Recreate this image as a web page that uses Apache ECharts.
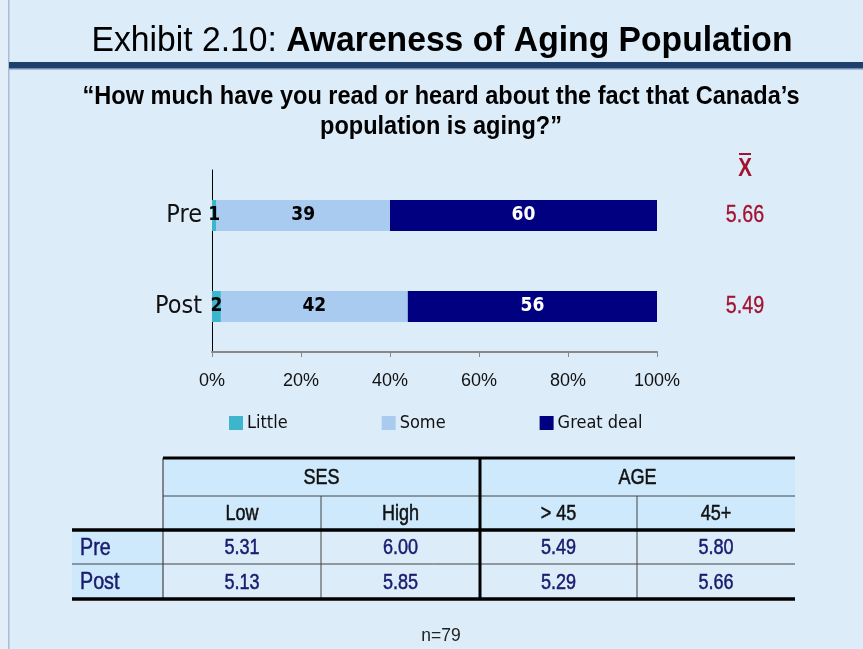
<!DOCTYPE html>
<html><head><meta charset="utf-8">
<script src="https://cdn.jsdelivr.net/npm/echarts@6/dist/echarts.min.js"></script>
<style>html,body{margin:0;padding:0;background:#dcecf9;}#c{width:863px;height:649px;}</style>
</head><body><div id="c"></div>
<script>
// ---- data ----
const categories = ['Pre', 'Post'];
const seriesNames = ['Little', 'Some', 'Great deal'];
const little = [1, 2];
const some = [39, 42];
const greatDeal = [60, 56];
const means = ['5.66', '5.49'];
const xTicks = [0, 20, 40, 60, 80, 100];
const tableGroups = ['SES', 'AGE'];
const tableCols = ['Low', 'High', '> 45', '45+'];
const tableRows = ['Pre', 'Post'];
const preVals = ['5.31', '6.00', '5.49', '5.80'];
const postVals = ['5.13', '5.85', '5.29', '5.66'];
const sampleNote = 'n=79';

const NARROW = '"DejaVu Sans Condensed", "Liberation Sans Narrow", sans-serif';
const SANS = '"Liberation Sans", Arial, sans-serif';
const colors = ['#3bb6cd', '#a9cbef', '#000080'];
const NS = 0.82; // narrow scale for Liberation Sans drawn text

const mctx = document.createElement('canvas').getContext('2d');
function measure(text, font) { mctx.font = font; return mctx.measureText(text).width; }

const chart = echarts.init(document.getElementById('c'));
const labelStyle = (color) => ({show: true, position: 'inside', color: color, fontFamily: NARROW, fontWeight: 'bold', fontSize: 19});

const vals = [little, some, greatDeal];
const series = seriesNames.map((n, i) => ({
  name: n, type: 'bar', stack: 'all', barWidth: 31,
  itemStyle: {color: colors[i]},
  label: labelStyle(i === 2 ? '#ffffff' : '#000000'),
  data: vals[i]
}));

const option = {
  backgroundColor: '#dcecf9',
  animation: false,
  grid: {left: 212, right: 206, top: 170, bottom: 297, containLabel: false},
  xAxis: {
    type: 'value', min: xTicks[0], max: xTicks[xTicks.length - 1], interval: xTicks[1] - xTicks[0],
    axisLine: {show: true, lineStyle: {color: '#888', width: 2}},
    axisTick: {show: true, length: 5, lineStyle: {color: '#888'}},
    splitLine: {show: false},
    axisLabel: {formatter: '{value}%', fontFamily: SANS, fontSize: 18, color: '#111', margin: 20}
  },
  yAxis: {
    type: 'category', data: categories, inverse: true,
    axisLine: {show: true, lineStyle: {color: '#000', width: 1}},
    axisTick: {show: false},
    axisLabel: {fontFamily: NARROW, fontSize: 25, color: '#111', margin: 10}
  },
  legend: {
    data: seriesNames, left: 229, top: 414, padding: 0, itemWidth: 14, itemHeight: 14, itemGap: 94,
    icon: 'rect', textStyle: {fontFamily: NARROW, fontSize: 18, color: '#111', padding: [0, 0, 0, -1]}
  },
  series: series,
  graphic: []
};
chart.setOption(option);

// ---- overlay graphics ----
const g = [];
g.push({type: 'rect', shape: {x: 0, y: 0, width: 8, height: 649}, style: {fill: '#e3eef9'}, silent: true});
g.push({type: 'rect', shape: {x: 8, y: 0, width: 1.5, height: 649}, style: {fill: '#a8bcd8'}, silent: true});

// title (regular + bold), scaled to match width
const tA = 'Exhibit 2.10: ', tB = 'Awareness of Aging Population';
const tSize = 35;
const tW = measure(tA, tSize + 'px ' + SANS) + measure(tB, 'bold ' + tSize + 'px ' + SANS);
const tScale = 701 / tW;
g.push({type: 'text', x: 442, y: 41, scaleX: tScale, style: {
  text: '{n|' + tA + '}{b|' + tB + '}', textAlign: 'center', textVerticalAlign: 'middle',
  rich: {n: {fontFamily: SANS, fontSize: tSize, fill: '#000'}, b: {fontFamily: SANS, fontSize: tSize, fontWeight: 'bold', fill: '#000'}}
}});
g.push({type: 'rect', shape: {x: 9, y: 62, width: 854, height: 6}, style: {fill: '#1f3f6c'}, silent: true});
g.push({type: 'rect', shape: {x: 9, y: 68, width: 854, height: 1.5}, style: {fill: '#6f8db3'}, silent: true});

// subtitle
const s1 = '\u201cHow much have you read or heard about the fact that Canada\u2019s';
const s2 = 'population is aging?\u201d';
const sSize = 25;
const sScale = 717 / measure(s1, 'bold ' + sSize + 'px ' + SANS);
g.push({type: 'text', x: 441, y: 112, scaleX: sScale, style: {
  text: s1 + '\n' + s2, textAlign: 'center', textVerticalAlign: 'middle',
  fontFamily: SANS, fontWeight: 'bold', fontSize: sSize, lineHeight: 30, fill: '#000'
}});

// mean column
g.push({type: 'text', x: 745, y: 169, scaleX: NS, style: {text: 'X', textAlign: 'center', textVerticalAlign: 'middle', fontFamily: SANS, fontWeight: 'bold', fontSize: 25, fill: '#a3122f'}});
g.push({type: 'rect', shape: {x: 739, y: 153, width: 12, height: 2}, style: {fill: '#a3122f'}});
categories.forEach((c, i) => {
  const y = chart.convertToPixel({yAxisIndex: 0}, c);
  g.push({type: 'text', x: 745, y: y, scaleX: NS, style: {text: means[i], textAlign: 'center', textVerticalAlign: 'middle', fontFamily: SANS, fontSize: 24, fill: '#a3122f', stroke: '#a3122f', lineWidth: 0.3}});
});

// table
const xs = [72, 163, 321, 480, 637, 795];
const ys = [458, 496, 530, 564, 599];
const FILL = '#cde9fb';
g.push({type: 'rect', shape: {x: xs[1], y: ys[0], width: xs[5] - xs[1], height: ys[2] - ys[0]}, style: {fill: FILL}});
g.push({type: 'rect', shape: {x: xs[0], y: ys[2], width: xs[1] - xs[0], height: ys[4] - ys[2]}, style: {fill: FILL}});
const line = (x1, y1, x2, y2, w, col) => g.push({type: 'line', shape: {x1, y1, x2, y2}, style: {stroke: col || '#000', lineWidth: w}});
line(xs[1], ys[1], xs[5], ys[1], 1, '#444');
line(xs[0], ys[3], xs[5], ys[3], 1, '#444');
line(xs[1], ys[0], xs[1], ys[4], 1.2, '#444');
line(xs[2], ys[1], xs[2], ys[4], 1, '#444');
line(xs[4], ys[1], xs[4], ys[4], 1, '#444');
line(xs[3], ys[0], xs[3], ys[4], 3);
line(xs[1], ys[0], xs[5], ys[0], 3);
line(xs[0], ys[2], xs[5], ys[2], 3.5);
line(xs[0], ys[4], xs[5], ys[4], 3.5);
const tt = (text, x, y, col, align, size) => g.push({type: 'text', x, y, scaleX: NS, style: {text, textAlign: align || 'center', textVerticalAlign: 'middle', fontFamily: SANS, fontSize: size || 22, fill: col, stroke: col, lineWidth: 0.5}});
tt(tableGroups[0], (xs[1] + xs[3]) / 2, (ys[0] + ys[1]) / 2 + 1, '#111');
tt(tableGroups[1], (xs[3] + xs[5]) / 2, (ys[0] + ys[1]) / 2 + 1, '#111');
tableCols.forEach((c, i) => tt(c, (xs[i + 1] + xs[i + 2]) / 2, (ys[1] + ys[2]) / 2 + 1, '#111'));
const rowVals = [preVals, postVals];
tableRows.forEach((r, j) => {
  const yc = (ys[2 + j] + ys[3 + j]) / 2 + 1;
  tt(r, 80, yc, '#1a1a6e', 'left', 24);
  rowVals[j].forEach((v, i) => tt(v, (xs[i + 1] + xs[i + 2]) / 2, yc, '#1a1a6e'));
});
g.push({type: 'text', x: 441, y: 636, scaleX: 0.92, style: {text: sampleNote, textAlign: 'center', textVerticalAlign: 'middle', fontFamily: SANS, fontSize: 19, fill: '#222'}});

chart.setOption({graphic: g});
</script></body></html>
